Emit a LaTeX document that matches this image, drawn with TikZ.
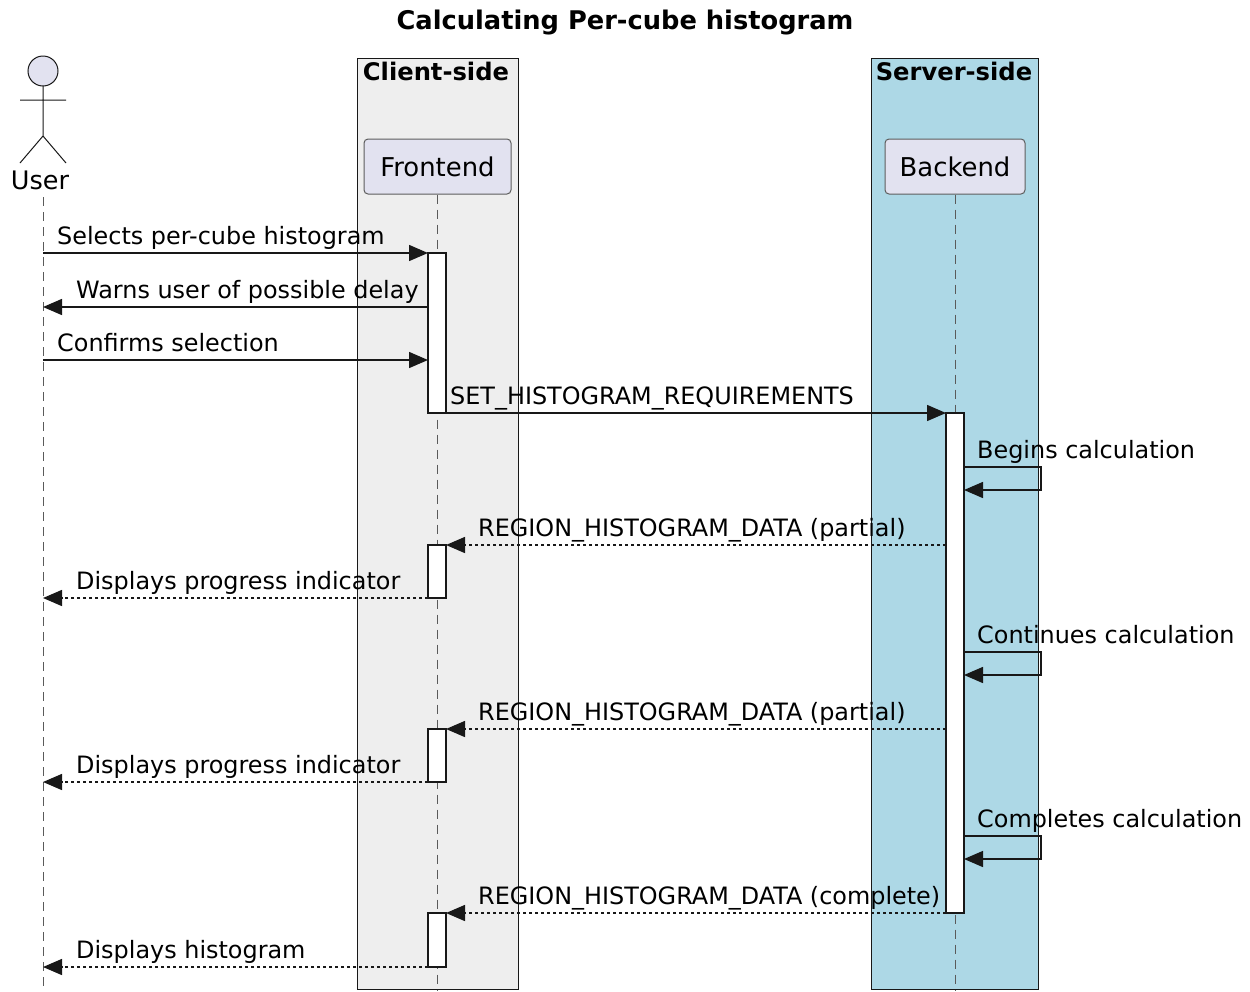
\documentclass[tikz,border=0pt]{standalone}
\usepackage{fontspec}
\setmainfont{DejaVu Sans}
\usetikzlibrary{arrows.meta,positioning}
\definecolor{clientgray}{RGB}{238,238,238}
\definecolor{serverblue}{RGB}{173,216,230}
\definecolor{partfill}{RGB}{226,226,240}
\definecolor{inkdark}{RGB}{24,24,24}
\definecolor{lifegray}{RGB}{90,90,90}

\begin{document}
\begin{tikzpicture}[x=1pt, y=-1pt,
    msgtext/.style={font=\fontsize{23.9}{28}\selectfont, anchor=base west, inner sep=0},
    boxtitle/.style={font=\fontsize{24.2}{28}\selectfont\bfseries, anchor=base, inner sep=0},
    participant/.style={draw=inkdark!70, fill=partfill, rounded corners=4pt, line width=1pt,
      minimum width=#1, minimum height=55pt, font=\fontsize{25.9}{30}\selectfont},
    lifeline/.style={draw=lifegray, line width=1pt, dash pattern=on 9pt off 6pt},
    actbar/.style={draw=inkdark, fill=white, line width=1.6pt, minimum width=18pt, inner sep=0, outer sep=0, anchor=north},
    msg/.style={draw=inkdark, line width=1.5pt, -{Triangle[length=19pt, width=16pt]}},
    reply/.style={msg, dash pattern=on 3pt off 3pt}]
  \useasboundingbox (0,0) rectangle (1250,991);

  % title
  \node[font=\fontsize{25.7}{30}\selectfont\bfseries, anchor=base] (title) at (625,29) {Calculating Per-cube histogram};

  % side boxes
  \draw[draw=inkdark, fill=clientgray, line width=1pt] (357,58) rectangle (518,989);
  \draw[draw=inkdark, fill=serverblue, line width=1pt] (871,58) rectangle (1038,989);
  \node[boxtitle] (client) at (436,80) {Client-side};
  \node[boxtitle] (server) at (954,80) {Server-side};

  % actor
  \draw[draw=inkdark, fill=partfill, line width=1pt] (43,71) circle (15pt);
  \draw[draw=inkdark, line width=1pt] (43,86) -- (43,136) (20,100) -- (66,100)
    (20,163) -- (43,136) -- (66,163);
  \node[font=\fontsize{25.5}{30}\selectfont, anchor=base] (user) at (40,189) {User};

  % participants
  \node[participant=147pt] (front) at (437.5,166.5) {Frontend};
  \node[participant=140pt] (back) at (955,166.5) {Backend};

  % lifelines
  \coordinate (ul) at (43,197);
  \draw[lifeline] (ul) -- (43,991);
  \draw[lifeline] (front.south) -- (437.5,991);
  \draw[lifeline] (back.south) -- (955,991);

  % activations
  \node[actbar, minimum height=160pt] (fa1) at (437,253) {};
  \node[actbar, minimum height=53pt] (fa2) at (437,545) {};
  \node[actbar, minimum height=53pt] (fa3) at (437,729) {};
  \node[actbar, minimum height=54pt] (fa4) at (437,913) {};
  \node[actbar, minimum height=500pt] (ba) at (955,413) {};

  % message rows
  \coordinate (r2) at (0,307);
  \coordinate (r3) at (0,360);
  \coordinate (r5) at (0,467);
  \coordinate (r8) at (0,652);
  \coordinate (r11) at (0,836);

  \draw[msg] (ul |- fa1.north) -- (fa1.north west);
  \node[msgtext] (t1) at (57,244) {Selects per-cube histogram};
  \draw[msg] (fa1.west |- r2) -- (ul |- r2);
  \node[msgtext] (t2) at (76,298) {Warns user of possible delay};
  \draw[msg] (ul |- r3) -- (fa1.west |- r3);
  \node[msgtext] (t3) at (57,351) {Confirms selection};
  \draw[msg] (fa1.south east) -- (ba.north west);
  \node[msgtext] (t4) at (450,404) {SET\_HISTOGRAM\_REQUIREMENTS};

  \draw[msg] (ba.east |- r5) -- ++(77,0) -- ++(0,23) -- ++(-77,0);
  \node[msgtext] (t5) at (977,458) {Begins calculation};
  \draw[reply] (ba.west |- fa2.north) -- (fa2.north east);
  \node[msgtext] (t6) at (478,536) {REGION\_HISTOGRAM\_DATA (partial)};
  \draw[reply] (fa2.south west) -- (ul |- fa2.south);
  \node[msgtext] (t7) at (76,589) {Displays progress indicator};

  \draw[msg] (ba.east |- r8) -- ++(77,0) -- ++(0,23) -- ++(-77,0);
  \node[msgtext] (t8) at (977,643) {Continues calculation};
  \draw[reply] (ba.west |- fa3.north) -- (fa3.north east);
  \node[msgtext] (t9) at (478,720) {REGION\_HISTOGRAM\_DATA (partial)};
  \draw[reply] (fa3.south west) -- (ul |- fa3.south);
  \node[msgtext] (t10) at (76,773) {Displays progress indicator};

  \draw[msg] (ba.east |- r11) -- ++(77,0) -- ++(0,23) -- ++(-77,0);
  \node[msgtext] (t11) at (977,827) {Completes calculation};
  \draw[reply] (ba.south west) -- (fa4.north east);
  \node[msgtext] (t12) at (478,904) {REGION\_HISTOGRAM\_DATA (complete)};
  \draw[reply] (fa4.south west) -- (ul |- fa4.south);
  \node[msgtext] (t13) at (76,958) {Displays histogram};
\end{tikzpicture}
\end{document}
